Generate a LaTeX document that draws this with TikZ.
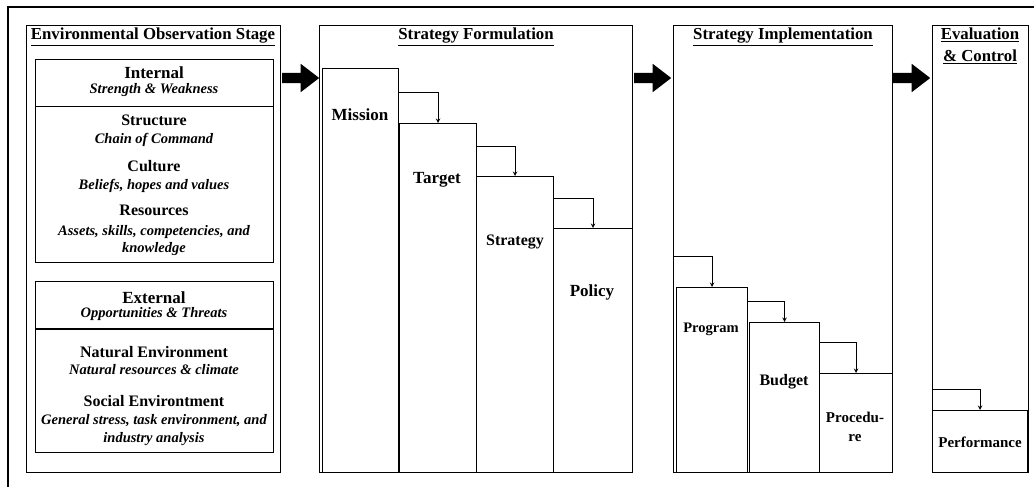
\documentclass[tikz,border=0pt]{standalone}
\usepackage{fontspec}
\setmainfont{Liberation Serif}
\usetikzlibrary{shapes.arrows}
\tikzstyle{stagebox}=[draw, line width=1.2pt, anchor=north west, inner sep=0pt]
\tikzstyle{stepbox}=[draw, line width=1.2pt, anchor=north west, inner sep=0pt]
\tikzstyle{bigarrow}=[single arrow, fill=black, anchor=tail, inner xsep=0pt, inner ysep=5pt,
    minimum height=37pt, single arrow head extend=9pt, single arrow tip angle=75]
\tikzstyle{steparrow}=[->, >=stealth, line width=1pt]
\tikzstyle{titletxt}=[anchor=base, inner sep=0pt, font=\bfseries\fontsize{16.8}{17}\selectfont]
\tikzstyle{headtxt}=[anchor=base, inner sep=0pt, font=\bfseries\fontsize{16}{16}\selectfont]
\tikzstyle{subtxt}=[anchor=base, inner sep=0pt, font=\bfseries\itshape\fontsize{14.5}{15}\selectfont]
\tikzstyle{steptxt}=[anchor=base, inner sep=0pt, font=\bfseries\fontsize{17}{17}\selectfont]

\begin{document}
\begin{tikzpicture}[x=1pt, y=-1pt]
    \useasboundingbox (0,0) rectangle (1034,487) ;
    \draw[line width=1.2pt] (8,487) -- (8,7) -- (1034,7) ;
    % environmental observation
    \node[stagebox, minimum width=254pt, minimum height=447pt] (envstage) at (26,25) {} ;
    \node[titletxt] (envtitle) at (153,40) {\underline{Environmental Observation Stage}} ;
    \node[stagebox, minimum width=238pt, minimum height=47pt] (inthead) at (35,59) {} ;
    \node[stagebox, minimum width=238pt, minimum height=156pt] (intbody) at (35,106) {} ;
    \node[headtxt, font=\bfseries\fontsize{17}{17}\selectfont] (internal) at (154,78) {Internal} ;
    \node[subtxt] (intsub) at (154,93) {Strength \& Weakness} ;
    \node[headtxt] (structure) at (154,125) {Structure} ;
    \node[subtxt] (chain) at (154,143) {Chain of Command} ;
    \node[headtxt] (culture) at (154,171) {Culture} ;
    \node[subtxt] (beliefs) at (154,189) {Beliefs, hopes and values} ;
    \node[headtxt] (resources) at (154,215) {Resources} ;
    \node[subtxt] (assets) at (154,235) {Assets, skills, competencies, and} ;
    \node[subtxt] (knowledge) at (154,252) {knowledge} ;
    \node[stagebox, minimum width=238pt, minimum height=47pt] (exthead) at (35,281) {} ;
    \node[stagebox, minimum width=238pt, minimum height=124pt] (extbody) at (35,328) {} ;
    \draw[line width=2.4pt] (exthead.south west) -- (exthead.south east) ;
    \node[headtxt, font=\bfseries\fontsize{17}{17}\selectfont] (external) at (154,303) {External} ;
    \node[subtxt] (extsub) at (154,317) {Opportunities \& Threats} ;
    \node[headtxt] (natural) at (154,357) {Natural Environment} ;
    \node[subtxt] (natsub) at (154,374) {Natural resources \& climate} ;
    \node[headtxt] (social) at (154,406) {Social Environtment} ;
    \node[subtxt] (socsub) at (154,424) {General stress, task environment, and} ;
    \node[subtxt] (industry) at (154,442) {industry analysis} ;
    % formulation
    \node[stagebox, minimum width=313pt, minimum height=447pt] (formulation) at (319,25) {} ;
    \node[titletxt] (formtitle) at (476,40) {\underline{Strategy Formulation}} ;
    \node[stepbox, minimum width=76pt, minimum height=404pt] (mission) at (322,68) {} ;
    \node[stepbox, minimum width=77pt, minimum height=349pt] (target) at (399,123) {} ;
    \node[stepbox, minimum width=77pt, minimum height=296pt] (strategy) at (476,176) {} ;
    \node[stepbox, minimum width=79pt, minimum height=244pt] (policy) at (553,228) {} ;
    \node[steptxt] (missiontxt) at (360,121) {Mission} ;
    \node[steptxt] (targettxt) at (437,183) {Target} ;
    \node[steptxt, font=\bfseries\fontsize{16}{16}\selectfont] (strategytxt) at (515,245) {Strategy} ;
    \node[steptxt] (policytxt) at (592,296) {Policy} ;
    \coordinate (m2t) at (398,93) ;
    \coordinate (t2s) at (476,146) ;
    \coordinate (s2p) at (553,198) ;
    \draw[steparrow] (m2t) -| (target.north) ;
    \draw[steparrow] (t2s) -| (strategy.north) ;
    \draw[steparrow] (s2p) -| (policy.north) ;
    % implementation
    \node[stagebox, minimum width=219pt, minimum height=447pt] (implementation) at (673,25) {} ;
    \node[titletxt] (impltitle) at (783,40) {\underline{Strategy Implementation}} ;
    \node[stepbox, minimum width=71pt, minimum height=185pt] (program) at (676,287) {} ;
    \node[stepbox, minimum width=70pt, minimum height=150pt] (budget) at (749,322) {} ;
    \node[stepbox, minimum width=73pt, minimum height=99pt] (procedure) at (819,373) {} ;
    \node[steptxt, font=\bfseries\fontsize{14.5}{15}\selectfont] (programtxt) at (711,332) {Program} ;
    \node[steptxt, font=\bfseries\fontsize{16}{16}\selectfont] (budgettxt) at (784,385) {Budget} ;
    \node[steptxt, font=\bfseries\fontsize{15}{15}\selectfont] (proctxta) at (855,422) {Procedu-} ;
    \node[steptxt, font=\bfseries\fontsize{15}{15}\selectfont] (proctxtb) at (855,441) {re} ;
    \coordinate (i2p) at (673,256) ;
    \coordinate (p2b) at (747,301) ;
    \coordinate (b2r) at (819,342) ;
    \draw[steparrow] (i2p) -| (program.north) ;
    \draw[steparrow] (p2b) -| (budget.north) ;
    \draw[steparrow] (b2r) -| (procedure.north) ;
    % evaluation
    \node[stagebox, minimum width=96pt, minimum height=447pt] (evaluation) at (932,25) {} ;
    \node[titletxt] (evaltitle) at (980,40) {\underline{Evaluation}} ;
    \node[titletxt] (evaltitleb) at (980,62) {\underline{\& Control}} ;
    \node[stepbox, minimum width=95pt, minimum height=62pt] (performance) at (932,410) {} ;
    \node[steptxt, font=\bfseries\fontsize{15}{15}\selectfont] (perftxt) at (980,447) {Performance} ;
    \coordinate (e2f) at (932,389) ;
    \draw[steparrow] (e2f) -| (performance.north) ;
    % stage arrows
    \node[bigarrow] (arrowa) at (282,78) {} ;
    \node[bigarrow] (arrowb) at (634,78) {} ;
    \node[bigarrow] (arrowc) at (893,78) {} ;
\end{tikzpicture}
\end{document}
